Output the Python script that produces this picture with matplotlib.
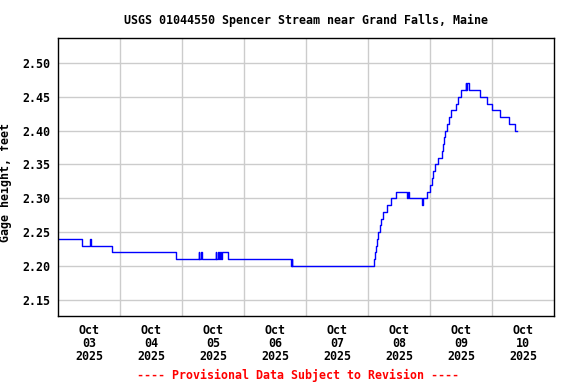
import matplotlib
matplotlib.use("Agg")
import matplotlib.pyplot as plt

# hours since 2025-10-03 00:00 where the gage height changes, and the new level (ft)
change_hours = [0, 9.25, 12.5, 12.75, 21.0, 45.5,
                54.5, 54.75, 55.5, 55.75,
                61.0, 61.25, 61.75, 62.25, 62.75, 63.0, 63.5, 66.0,
                90.25, 90.5, 90.75, 91.0,
                122.5, 122.75, 123.25, 123.5, 124.0, 124.5, 125.0, 125.75, 126.5,
                127.5, 129.0, 130.75, 135.25, 135.5, 136.0,
                140.75, 141.25, 143.0, 144.0, 144.75, 145.25, 146.0,
                147.0, 148.5, 149.0, 149.5, 150.0, 150.5, 151.25, 152.25,
                154.25, 155.0, 156.0, 157.75, 158.0, 158.5, 159.0,
                163.5, 166.0, 168.0, 171.25, 174.5, 176.75, 177.5]
levels = [2.24, 2.23, 2.24, 2.23, 2.22, 2.21,
          2.22, 2.21, 2.22, 2.21,
          2.22, 2.21, 2.22, 2.21, 2.22, 2.21, 2.22, 2.21,
          2.20, 2.21, 2.20, 2.20,
          2.21, 2.22, 2.23, 2.24, 2.25, 2.26, 2.27, 2.28, 2.28,
          2.29, 2.30, 2.31, 2.30, 2.31, 2.30,
          2.29, 2.30, 2.31, 2.32, 2.33, 2.34, 2.35,
          2.36, 2.37, 2.38, 2.39, 2.40, 2.41, 2.42, 2.43,
          2.44, 2.45, 2.46, 2.47, 2.46, 2.47, 2.46,
          2.45, 2.44, 2.43, 2.42, 2.41, 2.40, 2.40]

day_labels = ["Oct\n03\n2025", "Oct\n04\n2025", "Oct\n05\n2025", "Oct\n06\n2025",
              "Oct\n07\n2025", "Oct\n08\n2025", "Oct\n09\n2025", "Oct\n10\n2025"]
y_ticks = [2.15, 2.20, 2.25, 2.30, 2.35, 2.40, 2.45, 2.50]

plt.rcParams['font.family'] = 'DejaVu Sans Mono'
plt.rcParams['font.weight'] = 'bold'
fs = 8.4

fig = plt.figure(figsize=(5.76, 3.84), dpi=100)
ax = fig.add_axes([58/576, 1-316/384, 496/576, 278/384])

ax.step(change_hours, levels, where='post', color='blue', lw=1)

ax.set_xlim(0, 192)
ax.set_ylim(2.126, 2.537)
ax.set_xticks([12 + 24*i for i in range(len(day_labels))])
ax.set_xticklabels(day_labels, fontsize=fs, fontweight='bold', linespacing=1.0)
ax.set_xticks([24*i for i in range(1, 8)], minor=True)
ax.set_yticks(y_ticks)
ax.set_yticklabels(["%.2f" % v for v in y_ticks], fontsize=fs, fontweight='bold')
ax.tick_params(axis='x', which='both', length=0, pad=6)
ax.tick_params(axis='y', which='both', length=0, pad=5.8)
ax.grid(True, which='minor', axis='x', color='#cccccc', lw=1)
ax.grid(True, which='major', axis='y', color='#cccccc', lw=1)
for s in ax.spines.values():
    s.set_linewidth(1)

ax.set_ylabel("Gage height, feet", fontsize=fs, fontweight='bold')
ax.yaxis.set_label_coords((12-58)/496, 0.482)
fig.text(306/576, 1-20/384, "USGS 01044550 Spencer Stream near Grand Falls, Maine",
         ha='center', va='center', fontsize=fs, fontweight='bold')
fig.text(298/576, 1-375/384, "---- Provisional Data Subject to Revision ----",
         ha='center', va='center', fontsize=fs, fontweight='bold', color='red')

fig.savefig("out.png", dpi=100)
